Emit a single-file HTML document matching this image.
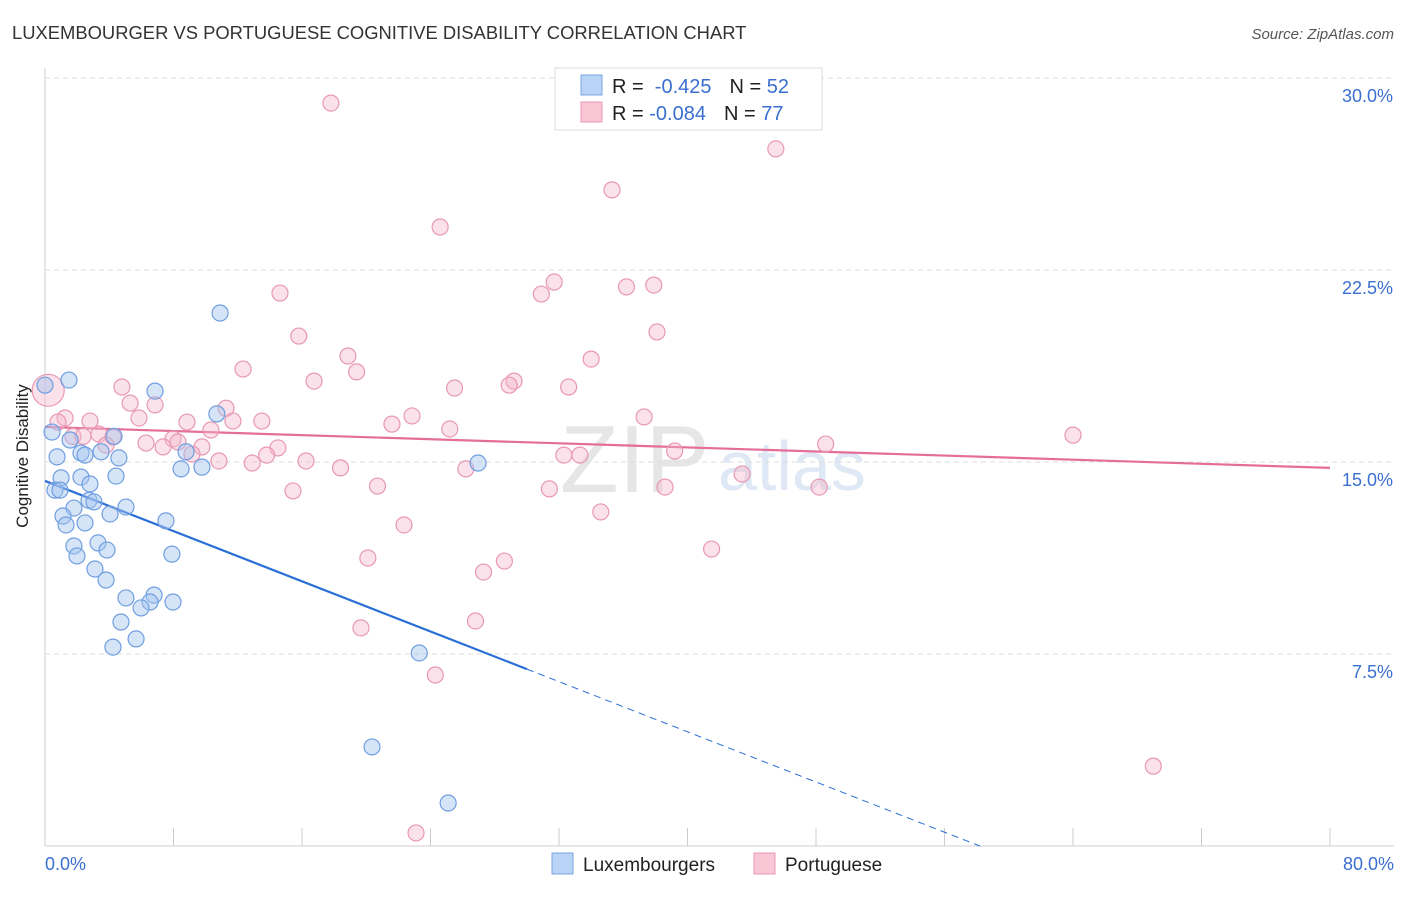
<!DOCTYPE html>
<html><head><meta charset="utf-8"><style>
body{margin:0;background:#fff;font-family:"Liberation Sans",sans-serif}
svg text{font-family:"Liberation Sans",sans-serif}
</style></head><body>
<svg id="c" width="1406" height="892" xmlns="http://www.w3.org/2000/svg">
<text x="12" y="39" font-size="18.4" fill="#333">LUXEMBOURGER VS PORTUGUESE COGNITIVE DISABILITY CORRELATION CHART</text>
<text x="1394" y="39" font-size="15" fill="#555" font-style="italic" text-anchor="end">Source: ZipAtlas.com</text>
<text x="28" y="456" font-size="17" fill="#222" text-anchor="middle" transform="rotate(-90 28 456)">Cognitive Disability</text>
<text x="560" y="492" font-size="96" fill="#e6e6e6" font-family="Liberation Serif">ZIP</text>
<text x="718" y="490" font-size="70" fill="#dfe8f5">atlas</text>
<g id="grid"></g><g id="lines"></g><g id="pts"></g>
<g>
<rect x="555" y="68" width="267" height="62" fill="#fff" stroke="#ddd"/>
<rect x="581" y="75" width="21" height="20" fill="#b9d3f6" stroke="#7aa6e0"/>
<rect x="581" y="102" width="21" height="20" fill="#f9c6d5" stroke="#e898b4"/>
<text x="612" y="93" font-size="20" fill="#222">R = <tspan fill="#3a6fd0">&#160;-0.425</tspan><tspan dx="18">N = </tspan><tspan fill="#3a6fd0">52</tspan></text>
<text x="612" y="120" font-size="20" fill="#222">R = <tspan fill="#3a6fd0">-0.084</tspan><tspan dx="18">N = </tspan><tspan fill="#3a6fd0">77</tspan></text>
</g>
<g>
<rect x="552" y="853" width="21" height="21" fill="#b9d3f6" stroke="#7aa6e0"/>
<text x="583" y="871" font-size="19" fill="#222">Luxembourgers</text>
<rect x="754" y="853" width="21" height="21" fill="#f9c6d5" stroke="#e898b4"/>
<text x="785" y="871" font-size="19" fill="#222">Portuguese</text>
</g>
</svg>
<script>
const luxX=[0,1.49,6.85,10.9,10.7,0.44,1.56,0.75,2.24,2.49,4.3,3.49,4.6,8.78,8.47,9.77,26.96,1.0,2.24,2.8,4.42,0.62,0.93,2.74,3.05,5.04,1.8,4.05,1.12,1.31,2.49,7.53,1.8,3.3,3.86,1.99,7.9,3.11,3.8,5.04,6.79,6.54,5.98,7.97,4.73,5.67,4.23,23.3,20.36,25.1];
const luxY=[18.0,18.2,17.77,20.82,16.88,16.17,15.86,15.2,15.35,15.27,16.0,15.4,15.16,15.4,14.73,14.8,14.96,14.38,14.41,14.14,14.45,13.9,13.9,13.5,13.44,13.24,13.2,12.97,12.89,12.54,12.62,12.7,11.72,11.84,11.56,11.33,11.4,10.82,10.39,9.69,9.8,9.53,9.3,9.53,8.75,8.09,7.77,7.54,3.87,1.68];
const porX=[17.8,45.5,35.3,24.6,31.7,30.9,36.2,37.9,14.63,38.1,15.8,18.86,34.0,12.33,19.4,16.75,29.2,28.9,25.5,32.6,4.79,0.2,5.3,6.85,11.27,5.85,1.25,2.8,8.84,11.7,13.5,22.85,37.3,21.6,25.2,0.81,1.74,2.37,3.36,4.23,7.97,8.28,3.8,6.29,7.35,10.33,9.77,9.15,14.5,13.8,48.6,64.0,39.2,32.3,33.3,10.83,12.9,16.25,18.4,26.2,43.4,20.7,15.44,31.4,38.6,48.2,34.6,22.35,41.5,28.6,20.1,27.3,26.8,19.67,24.3,69.0,23.1];
const porY=[29.02,27.23,25.63,24.18,22.03,21.56,21.84,21.91,21.6,20.08,19.92,19.14,19.02,18.63,18.52,18.16,18.16,18.0,17.89,17.93,17.93,17.8,17.3,17.23,17.1,16.72,16.72,16.6,16.56,16.6,16.6,16.8,16.76,16.48,16.29,16.56,16.0,16.0,16.09,15.98,15.9,15.78,15.66,15.74,15.59,16.25,15.59,15.31,15.55,15.27,15.7,16.05,15.43,15.27,15.27,15.04,14.96,15.04,14.77,14.73,14.53,14.06,13.87,13.95,14.02,14.02,13.05,12.54,11.6,11.13,11.25,10.7,8.79,8.52,6.68,3.12,0.51];
const yTicks=[7.5,15,22.5,30];
const yTickLabels=["7.5%","15.0%","22.5%","30.0%"];
const xTicks=[0,8,16,24,32,40,48,56,64,72,80];
const luxTrend=[14.26,-0.245,30];
const porTrend=[16.37,-0.02];
const NS='http://www.w3.org/2000/svg';
const X=v=>45+v*1285/80, Y=v=>846-v*25.6;
function mk(p,t,a){const e=document.createElementNS(NS,t);for(const k in a)e.setAttribute(k,a[k]);p.appendChild(e);return e;}
const g=document.getElementById('grid'),L=document.getElementById('lines'),P=document.getElementById('pts');
yTicks.forEach((t,i)=>{const l=mk(g,'line',{x1:45,x2:1394,y1:Y(t),y2:Y(t),stroke:'#ddd','stroke-dasharray':'5,4'});


const tx=mk(g,'text',{x:1393,y:Y(t)+24,'font-size':18,fill:'#3a6fd0','text-anchor':'end'});tx.textContent=yTickLabels[i];

});
const ax=mk(g,'line',{x1:45,x2:1394,y1:846,y2:846,stroke:'#ccc'});


const ay=mk(g,'line',{x1:45,x2:45,y1:68,y2:846,stroke:'#ccc'});


xTicks.forEach(t=>{const l=mk(g,'line',{x1:X(t),x2:X(t),y1:828,y2:846,stroke:'#ccc'});

});
[[0,'0.0%','start',45],[80,'80.0%','end',1394]].forEach(a=>{const t=mk(g,'text',{x:a[3],y:870,'font-size':18,fill:'#3a6fd0','text-anchor':a[2]});t.textContent=a[1];

});
function pts(xs,ys,fill,stroke,name,bigOk){xs.forEach((x,i)=>{const big=bigOk&&x<0.3;const c=mk(P,'circle',{cx:X(x),cy:Y(ys[i]),r:big?16:8,fill:fill,stroke:stroke,'stroke-width':1.2});

});}
pts(porX,porY,'rgba(246,180,200,0.4)','#e898b4','point-portuguese',true);
pts(luxX,luxY,'rgba(164,196,240,0.45)','#6f9fe0','point-luxembourger',false);
const bEnd=luxTrend[2];
const b1=mk(L,'line',{x1:X(0),y1:Y(luxTrend[0]),x2:X(bEnd),y2:Y(luxTrend[0]+luxTrend[1]*bEnd),stroke:'#2a6fd6','stroke-width':2.2});


const x0=-luxTrend[0]/luxTrend[1];
const b2=mk(L,'line',{x1:X(bEnd),y1:Y(luxTrend[0]+luxTrend[1]*bEnd),x2:X(x0),y2:Y(0),stroke:'#2a6fd6','stroke-width':1,'stroke-dasharray':'7,5'});


const p1=mk(L,'line',{x1:X(0),y1:Y(porTrend[0]),x2:X(80),y2:Y(porTrend[0]+porTrend[1]*80),stroke:'#e46e98','stroke-width':2.2});


</script>
</body></html>
